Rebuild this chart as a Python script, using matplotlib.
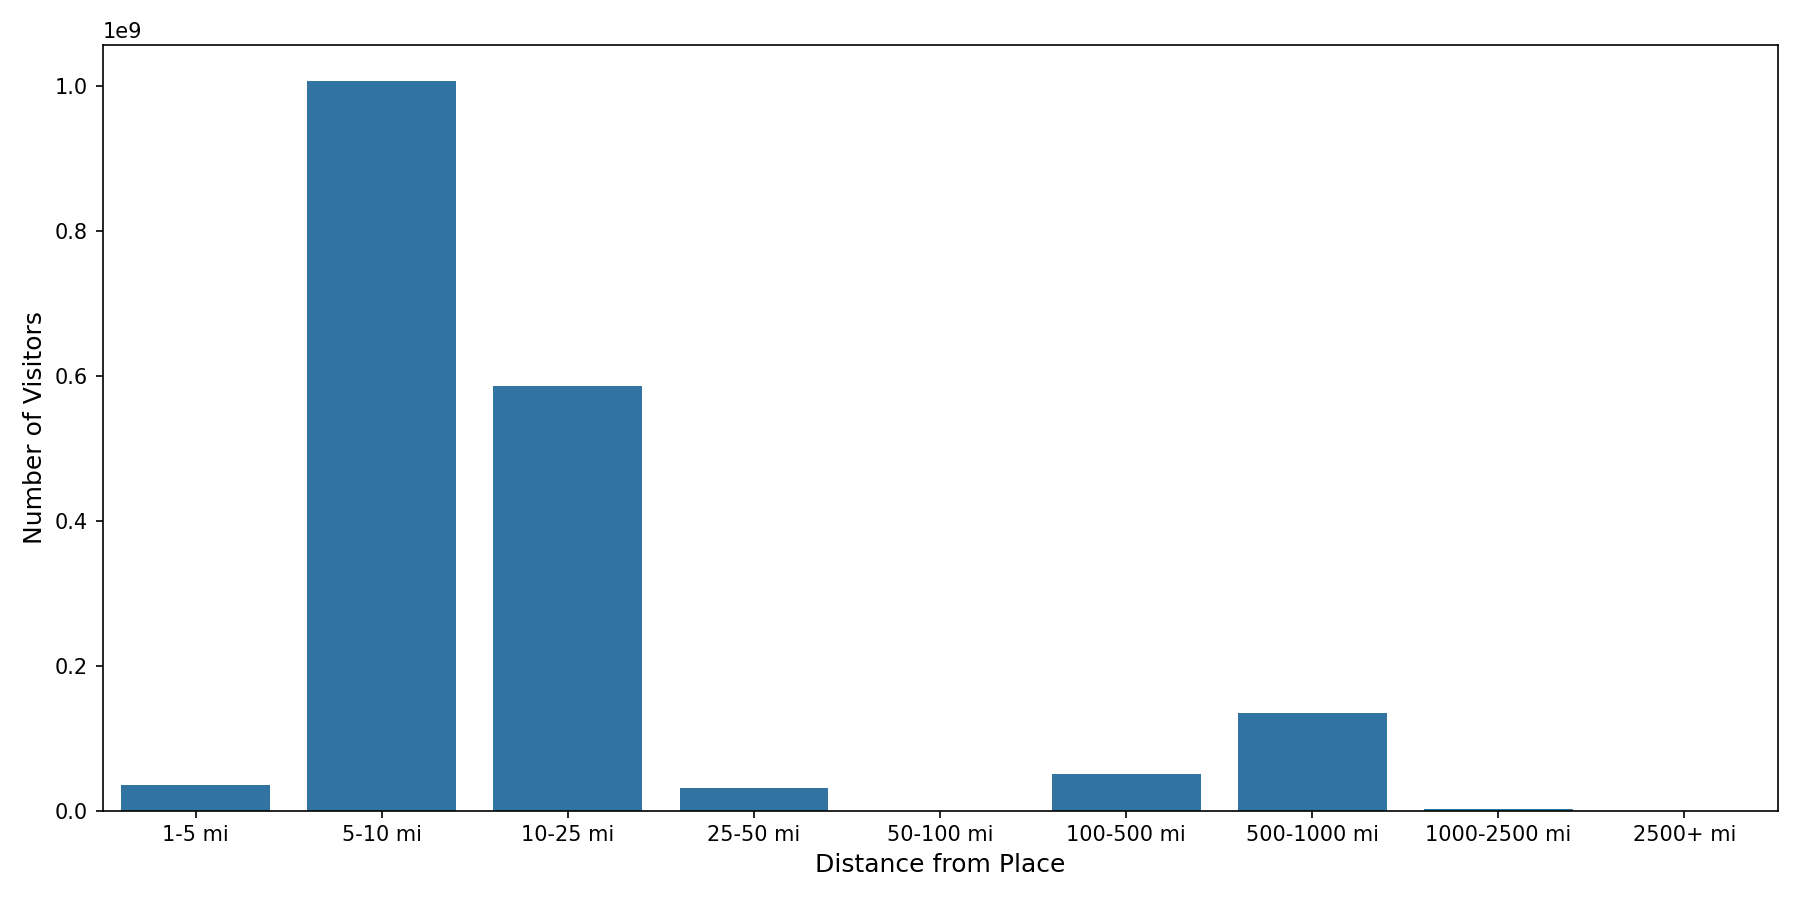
import pandas as pd
import seaborn as sns
import matplotlib
matplotlib.use("Agg")
import matplotlib.pyplot as plt

distance_bins = ["1-5 mi", "5-10 mi", "10-25 mi", "25-50 mi", "50-100 mi",
                 "100-500 mi", "500-1000 mi", "1000-2500 mi", "2500+ mi"]
visitors = [0.0356e9, 1.007e9, 0.5857e9, 0.0315e9, 0.0,
            0.0509e9, 0.1354e9, 0.0028e9, 0.0]

df = pd.DataFrame({"Distance": distance_bins, "Visitors": visitors})

plt.figure(figsize=(12, 6), dpi=150)
ax = sns.barplot(data=df, x="Distance", y="Visitors", color="#1f77b4")
ax.set_xlabel("Distance from Place", fontsize=12)
ax.set_ylabel("Number of Visitors", fontsize=12)
plt.tight_layout()
plt.savefig("out.png", dpi=150)
